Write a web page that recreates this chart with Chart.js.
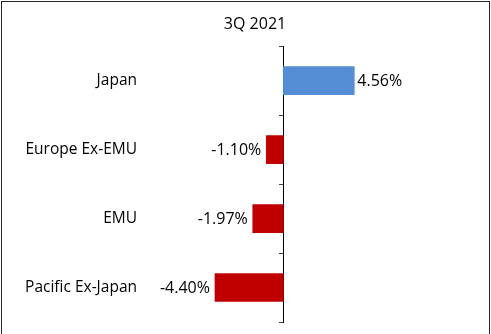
<!DOCTYPE html>
<html>
<head>
<meta charset="utf-8">
<script src="https://cdn.jsdelivr.net/npm/chart.js@4"></script>
<style>
  html, body { margin: 0; padding: 0; background: #fff; }
  #wrap { position: relative; width: 491px; height: 334px; overflow: hidden; }
  #frame {
    position: absolute; left: 1px; top: 1px; width: 489px; height: 340px;
    border: 1px solid #262626; box-sizing: border-box;
  }
  canvas { position: absolute; left: 0; top: 0; }
</style>
</head>
<body>
<div id="wrap">
  <canvas id="returns" width="491" height="334"></canvas>
  <div id="frame"></div>
</div>
<script>
const regions = ['Japan', 'Europe Ex-EMU', 'EMU', 'Pacific Ex-Japan'];
const returns3Q = [4.56, -1.10, -1.97, -4.40];
const barColors = ['#558ED5', '#C00000', '#C00000', '#C00000'];

const FONT = "'Open Sans', 'Noto Sans', sans-serif";

// value labels next to the end of each bar
const barValueLabels = {
  id: 'barValueLabels',
  afterDatasetsDraw(chart) {
    const ctx = chart.ctx;
    const meta = chart.getDatasetMeta(0);
    ctx.save();
    ctx.font = '16px ' + FONT;
    ctx.fillStyle = '#000';
    ctx.textBaseline = 'middle';
    meta.data.forEach((bar, i) => {
      const v = returns3Q[i];
      const txt = v.toFixed(2) + '%';
      if (v >= 0) {
        ctx.textAlign = 'left';
        ctx.fillText(txt, bar.x + 3, bar.y + 1);
      } else {
        ctx.textAlign = 'right';
        ctx.fillText(txt, bar.x - 5, bar.y + 1);
      }
    });
    ctx.restore();
  }
};

new Chart(document.getElementById('returns'), {
  type: 'bar',
  data: {
    labels: regions,
    datasets: [{
      data: returns3Q,
      backgroundColor: barColors,
      borderWidth: 0,
      barThickness: 28
    }]
  },
  options: {
    indexAxis: 'y',
    responsive: false,
    animation: false,
    devicePixelRatio: 1,
    layout: { padding: { left: 22, right: 3, top: 0, bottom: 12 } },
    plugins: {
      legend: { display: false },
      tooltip: { enabled: false },
      title: {
        display: true,
        text: '3Q 2021',
        color: '#000',
        font: { family: FONT, size: 16, weight: 'normal' },
        padding: { top: 15, bottom: 12 }
      }
    },
    scales: {
      x: {
        display: false,
        min: -8,
        max: 13.16
      },
      y: {
        grid: { display: false },
        border: { display: false },
        afterFit(scale) {
          scale.width = 137;
          scale.paddingTop = 0;
          scale.paddingBottom = 0;
        },
        ticks: {
          color: '#000',
          padding: 14,
          font: { family: FONT, size: 15.5 }
        }
      },
      // category axis drawn through zero
      y2: {
        type: 'category',
        labels: regions,
        position: { x: 0 },
        offset: true,
        ticks: { display: false },
        grid: {
          offset: true,
          drawOnChartArea: false,
          tickLength: 4,
          color: '#444'
        },
        border: { color: '#000', width: 1 }
      }
    }
  },
  plugins: [barValueLabels]
});
</script>
</body>
</html>
